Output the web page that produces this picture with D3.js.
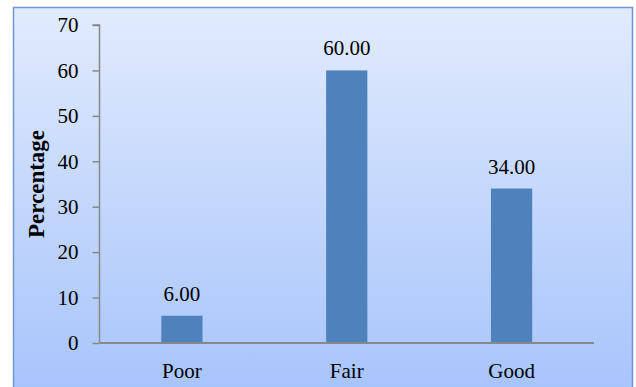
<!DOCTYPE html>
<html><head><meta charset="utf-8">
<script src="https://cdn.jsdelivr.net/npm/d3@7"></script>
<style>body{margin:0;background:#fff}svg{display:block}</style>
</head><body>
<script>
const categories = ["Poor", "Fair", "Good"];
const values = [6, 60, 34];
const yTicks = [0, 10, 20, 30, 40, 50, 60, 70];
const yTitle = "Percentage";

(function () {
const W = 636, H = 387;
const svg = d3.select("body").append("svg").attr("width", W).attr("height", H);
const defs = svg.append("defs");
const g = defs.append("linearGradient").attr("id", "bg").attr("x1", 0).attr("y1", 0).attr("x2", 0).attr("y2", 1);
g.append("stop").attr("offset", "0%").attr("stop-color", "#e1ebfd");
g.append("stop").attr("offset", "100%").attr("stop-color", "#a7c4fb");

svg.append("rect").attr("x", 13.5).attr("y", 7.5).attr("width", 619).attr("height", 385)
  .attr("fill", "url(#bg)").attr("stroke", "#6f97cf").attr("stroke-width", 1.5);

const pL = 99.5, pR = 594, pT = 25, pB = 343;
const x = d3.scaleBand().domain(categories).range([pL, pR]).paddingInner(0.75).paddingOuter(0.375);
const y = d3.scaleLinear().domain([0, 70]).range([pB, pT]);

const font = "'Liberation Serif', 'Times New Roman', serif";
const fs = "21px";

svg.selectAll("rect.bar").data(values).enter().append("rect").attr("class", "bar")
  .attr("x", (d, i) => x(categories[i])).attr("width", x.bandwidth())
  .attr("y", d => y(d)).attr("height", d => y(0) - y(d))
  .attr("fill", "#4f81bd");

svg.selectAll("text.val").data(values).enter().append("text").attr("class", "val")
  .attr("x", (d, i) => x(categories[i]) + x.bandwidth() / 2)
  .attr("y", d => y(d) - 15).attr("text-anchor", "middle")
  .style("font-family", font).style("font-size", fs).text(d => d.toFixed(2));

const yAxis = svg.append("g").attr("transform", `translate(${pL},0)`)
  .call(d3.axisLeft(y).tickValues(yTicks).tickSize(7).tickPadding(14));
yAxis.selectAll("text").style("font-family", font).style("font-size", fs).attr("fill", "#000");
yAxis.selectAll("line").attr("stroke", "#888").attr("stroke-width", 1.5);
yAxis.select(".domain").attr("stroke", "#888").attr("stroke-width", 1.5).attr("d", `M-7,${pT}H0V${pB}`);

const xAxis = svg.append("g").attr("transform", `translate(0,${pB})`)
  .call(d3.axisBottom(x).tickSize(0).tickPadding(20));
xAxis.selectAll("text").style("font-family", font).style("font-size", fs).attr("fill", "#000");
xAxis.select(".domain").attr("stroke", "#888").attr("stroke-width", 2).attr("d", `M${pL},0H${pR}`);

svg.append("text").attr("transform", `translate(44,184) rotate(-90)`)
  .attr("text-anchor", "middle").style("font-family", font).style("font-size", "23px")
  .style("font-weight", "bold").text(yTitle);
})();
</script>
</body></html>
